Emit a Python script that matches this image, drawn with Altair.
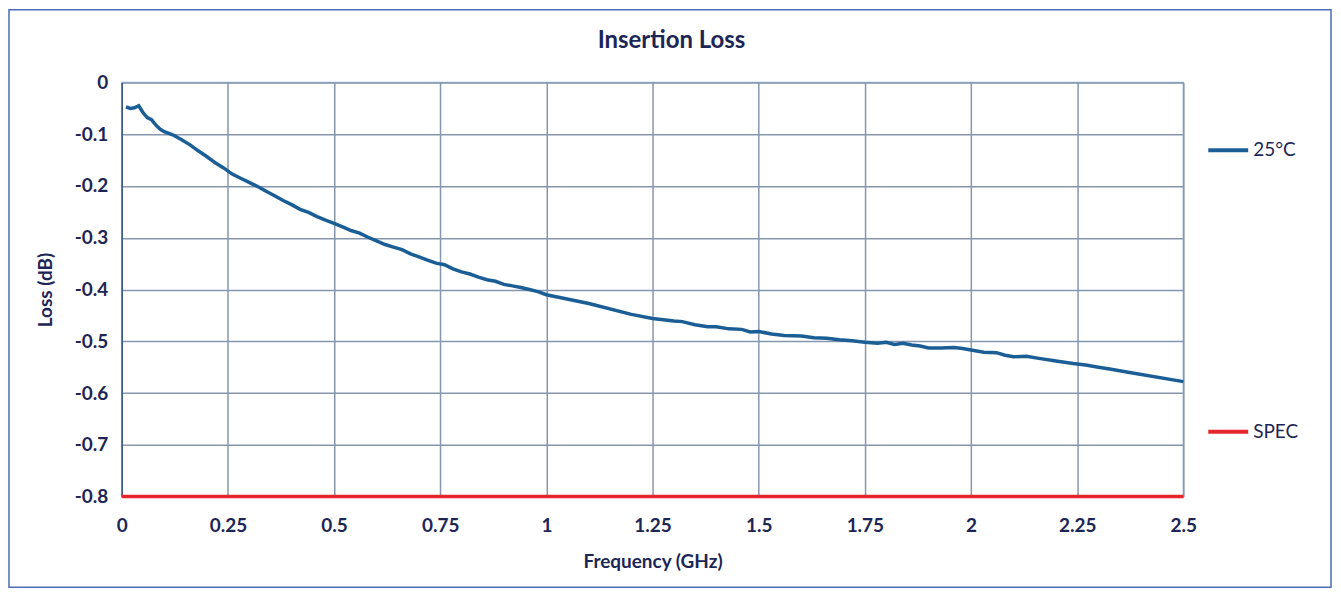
import altair as alt
import pandas as pd

freq_ghz = [0.01, 0.02, 0.03, 0.04, 0.05, 0.06, 0.07, 0.08, 0.09, 0.10,
            0.12, 0.14, 0.16, 0.18, 0.20, 0.22, 0.24, 0.26, 0.28, 0.30,
            0.32, 0.34, 0.36, 0.38, 0.40, 0.42, 0.44, 0.46, 0.48, 0.50,
            0.52, 0.54, 0.56, 0.58, 0.60, 0.62, 0.64, 0.66, 0.68, 0.70,
            0.72, 0.74, 0.76, 0.78, 0.80, 0.82, 0.84, 0.86, 0.88, 0.90,
            0.92, 0.94, 0.96, 0.98, 1.00, 1.10, 1.20, 1.25, 1.30, 1.32,
            1.35, 1.38, 1.40, 1.43, 1.46, 1.48, 1.50, 1.53, 1.56, 1.60,
            1.63, 1.66, 1.69, 1.72, 1.75, 1.78, 1.80, 1.82, 1.84, 1.86,
            1.88, 1.90, 1.93, 1.96, 1.98, 2.00, 2.03, 2.06, 2.08, 2.10,
            2.13, 2.16, 2.20, 2.24, 2.27, 2.30, 2.33, 2.37, 2.50]
loss_25c = [-0.047, -0.050, -0.049, -0.045, -0.058, -0.068, -0.072, -0.082, -0.090, -0.095,
            -0.101, -0.110, -0.120, -0.132, -0.143, -0.155, -0.165, -0.177, -0.185, -0.193,
            -0.201, -0.210, -0.219, -0.228, -0.236, -0.245, -0.251, -0.259, -0.266, -0.272,
            -0.279, -0.286, -0.291, -0.299, -0.306, -0.313, -0.318, -0.323, -0.331, -0.337,
            -0.343, -0.349, -0.352, -0.360, -0.366, -0.370, -0.376, -0.381, -0.384, -0.390,
            -0.393, -0.396, -0.400, -0.404, -0.410, -0.427, -0.448, -0.456, -0.461, -0.462,
            -0.468, -0.472, -0.472, -0.476, -0.477, -0.482, -0.481, -0.486, -0.489, -0.490,
            -0.493, -0.494, -0.497, -0.499, -0.502, -0.504, -0.502, -0.506, -0.504, -0.507,
            -0.509, -0.513, -0.513, -0.512, -0.514, -0.517, -0.521, -0.522, -0.527, -0.530,
            -0.529, -0.533, -0.538, -0.543, -0.546, -0.550, -0.554, -0.560, -0.578]
spec_freq = [0.0, 2.5]
spec_loss = [-0.8, -0.8]
series_names = ["25°C", "SPEC"]
series_colors = ["#1b5e96", "#e5262b"]
x_ticks = [0, 0.25, 0.5, 0.75, 1, 1.25, 1.5, 1.75, 2, 2.25, 2.5]
y_ticks = [0, -0.1, -0.2, -0.3, -0.4, -0.5, -0.6, -0.7, -0.8]

df = pd.concat([
    pd.DataFrame({"f": freq_ghz, "loss": loss_25c, "series": series_names[0], "o": range(len(freq_ghz))}),
    pd.DataFrame({"f": spec_freq, "loss": spec_loss, "series": series_names[1], "o": range(len(spec_freq))}),
])

FONT = "Lato"
TXT = "#1c2656"
W, H = 1064, 415
PL, PT, PR, PB = 114, 74, 150, 93

lines = alt.Chart(df).mark_line(strokeWidth=3.5).encode(
    x=alt.X("f:Q", title="Frequency (GHz)",
            scale=alt.Scale(domain=[0, 2.5], nice=False),
            axis=alt.Axis(values=x_ticks, format=".2~f", grid=True, ticks=False, domain=False,
                          labelPadding=20, titlePadding=17, labelFlush=False)),
    y=alt.Y("loss:Q", title="Loss (dB)",
            scale=alt.Scale(domain=[-0.8, 0], nice=False, zero=False),
            axis=alt.Axis(values=y_ticks, grid=True, ticks=False, domain=True,
                          labelExpr="datum.value == 0 ? '0' : '-' + format(abs(datum.value), '.1f')",
                          labelPadding=14, titlePadding=19)),
    color=alt.Color("series:N", scale=alt.Scale(domain=series_names, range=series_colors),
                    legend=alt.Legend(title=None, orient="none", legendX=1087, legendY=46,
                                      symbolType="stroke", symbolSize=1600, symbolStrokeWidth=4,
                                      rowPadding=250, labelFontSize=19, labelFont=FONT,
                                      labelColor=TXT, labelOffset=3)),
    order="o:Q",
)

frame = alt.Chart(pd.DataFrame({"a": [0]})).mark_rect(
    fill=None, stroke="#4a6db3", strokeWidth=1.5
).encode(
    x=alt.value(-PL + 1), x2=alt.value(W + PR - 2),
    y=alt.value(-PT + 1), y2=alt.value(H + PB - 2),
)

chart = alt.layer(frame, lines).properties(
    width=W, height=H,
    padding={"left": PL, "top": PT, "right": PR, "bottom": PB},
    autosize=alt.AutoSizeParams(type="none"),
    title=alt.TitleParams("Insertion Loss", fontSize=24, font=FONT, fontWeight="bold",
                          color=TXT, offset=-44, dx=19, frame="group"),
).configure_view(
    stroke="#9dbbe0", strokeWidth=1.5
).configure_axis(
    labelFont=FONT, labelFontSize=19, labelFontWeight="bold", labelColor=TXT,
    titleFont=FONT, titleFontSize=19, titleFontWeight="bold", titleColor=TXT,
    gridColor="#8596ae", gridWidth=1.5, gridOpacity=1,
    domainColor="#3d5885", domainWidth=1.5,
)

chart.save("out.html", embed_options={"renderer": "svg", "actions": False})
